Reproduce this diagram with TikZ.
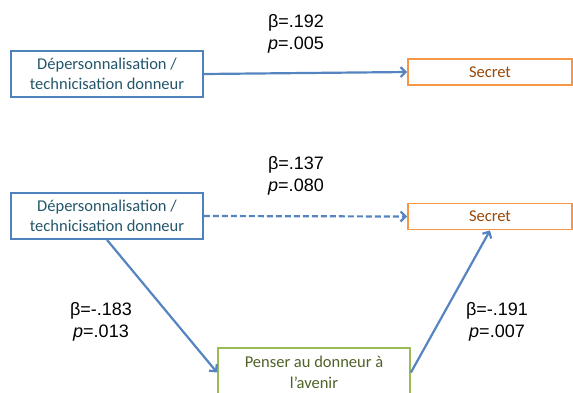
\documentclass[tikz,border=0pt]{standalone}
\usepackage{fontspec}
\setmainfont{Carlito}
\newfontfamily\arialfont{Liberation Sans}
\usetikzlibrary{arrows.meta}
\definecolor{cajaazul}{HTML}{4F81BD}
\definecolor{textoazul}{HTML}{24566B}
\definecolor{cajanaranja}{HTML}{F79646}
\definecolor{textonaranja}{HTML}{984807}
\definecolor{cajaverde}{HTML}{9BBB59}
\definecolor{textoverde}{HTML}{4F6228}
\definecolor{flecha}{HTML}{5585C0}

\begin{document}
\begin{tikzpicture}[x=1pt,y=-1pt,
    caja/.style={draw, line width=1.8pt, fill=white, align=center, inner sep=0pt,
      font=\fontsize{16.5}{20.5}\selectfont},
    pred/.style={caja, draw=cajaazul, text=textoazul, minimum width=192pt, minimum height=46pt},
    sec/.style={caja, draw=cajanaranja, text=textonaranja, minimum width=164pt, minimum height=26pt},
    med/.style={caja, draw=cajaverde, text=textoverde, minimum width=192pt, minimum height=49pt},
    coef/.style={align=center, font=\arialfont\fontsize{18}{22}\selectfont},
    fl/.style={flecha, line width=2.2pt, -{Straight Barb[length=5pt,width=10pt]}}]
  \useasboundingbox (0,0) rectangle (573,392);

  % Modelo directo
  \node[pred] (dep1) at (107,74) {Dépersonnalisation /\\technicisation donneur};
  \node[sec]  (sec1) at (490,72) {Secret};
  \draw[fl] (dep1.east) -- (sec1.west);
  \node[coef] (b1) at (296,34) {β=.192\\{\itshape p}=.005};

  % Modelo con mediador
  \node[pred] (dep2) at (107,216) {Dépersonnalisation /\\technicisation donneur};
  \node[sec]  (sec2) at (490,216.5) {Secret};
  \node[med]  (pen)  at (314,372.5) {Penser au donneur à\\l’avenir};
  \draw[fl, dashed, dash pattern=on 6pt off 3pt] (dep2.east) -- (sec2.west);
  \draw[fl] (dep2.south) -- (pen.west);
  \draw[fl] (pen.east) -- (sec2.south);

  % Coeficientes
  \node[coef] (b2) at (296,176)   {β=.137\\{\itshape p}=.080};
  \node[coef] (b3) at (101,321.5) {β=-.183\\{\itshape p}=.013};
  \node[coef] (b4) at (497,321.5) {β=-.191\\{\itshape p}=.007};
\end{tikzpicture}
\end{document}
